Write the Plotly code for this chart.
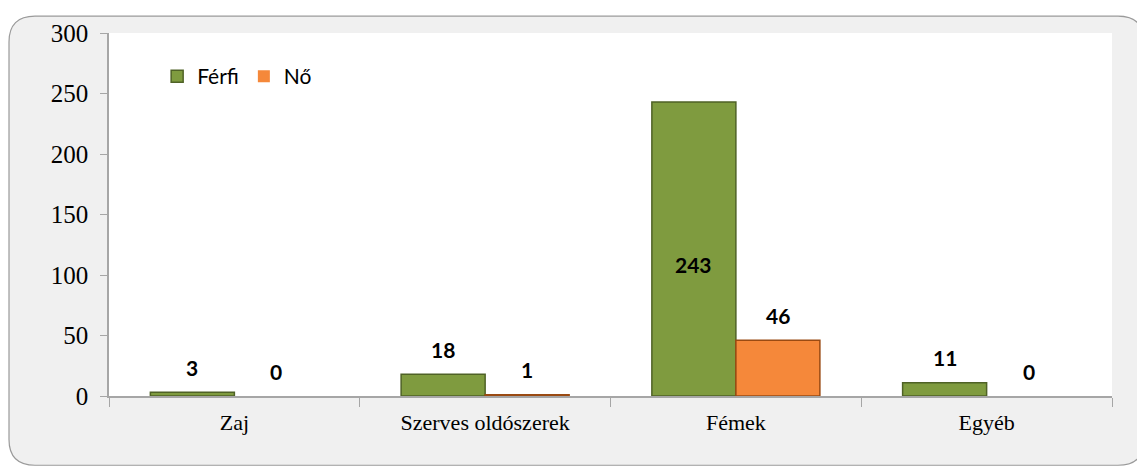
import plotly.graph_objects as go

categories = ["Zaj", "Szerves oldószerek", "Fémek", "Egyéb"]
ferfi = [3, 18, 243, 11]
no = [0, 1, 46, 0]
y_ticks = [0, 50, 100, 150, 200, 250, 300]

GREEN = "#7f9b3f"
GREEN_EDGE = "#4f6226"
ORANGE = "#f5883a"
ORANGE_EDGE = "#9a4a12"


def edge_widths(vals):
    return [1.5 if v > 0 else 0 for v in vals]


fig = go.Figure()
fig.add_trace(go.Bar(name="Férfi", x=categories, y=ferfi,
                     marker=dict(color=GREEN, line=dict(color=GREEN_EDGE, width=edge_widths(ferfi)))))
fig.add_trace(go.Bar(name="Nő", x=categories, y=no,
                     marker=dict(color=ORANGE, line=dict(color=ORANGE_EDGE, width=edge_widths(no)))))

# data labels
label_font = dict(family="Lato, 'Open Sans', Arial", size=21, color="#000000")
annotations = []
for series, shift in ((ferfi, -42), (no, 42)):
    for cat, v in zip(categories, series):
        if v > 100:
            annotations.append(dict(x=cat, y=v / 2, text=f"<b>{v}</b>", showarrow=False,
                                    xshift=shift, yshift=-16, font=label_font,
                                    xref="x", yref="y"))
        else:
            annotations.append(dict(x=cat, y=v, text=f"<b>{v}</b>", showarrow=False,
                                    xshift=shift, yshift=25, yanchor="middle",
                                    font=label_font, xref="x", yref="y"))

# the page body adds an 8px margin, so the figure is 8px smaller than the window
OFF = 8
W, H = 1145 - OFF, 468 - OFF
L, R, T, B = 109 - OFF, 33, 29 - OFF, 72
pw, ph = W - L - R, H - T - B

def px(xp):
    return (xp - OFF - L) / pw

def py(yp):
    return (H - B - (yp - OFF)) / ph

x0, x1, y0, y1 = px(9), px(1144), py(466), py(12)
rx, ry = 26 / pw, 26 / ph
path = (f"M {x0+rx},{y1} L {x1-rx},{y1} Q {x1},{y1} {x1},{y1-ry} "
        f"L {x1},{y0+ry} Q {x1},{y0} {x1-rx},{y0} "
        f"L {x0+rx},{y0} Q {x0},{y0} {x0},{y0+ry} "
        f"L {x0},{y1-ry} Q {x0},{y1} {x0+rx},{y1} Z")

shapes = [
    dict(type="path", path=path, xref="paper", yref="paper", layer="below",
         fillcolor="#f0f0f0", line=dict(color="#9a9a9a", width=1.2)),
    dict(type="rect", x0=0, x1=1, y0=0, y1=1, xref="paper", yref="paper",
         layer="below", fillcolor="#ffffff", line=dict(width=0)),
]

fig.update_layout(
    width=W, height=H,
    margin=dict(l=L, r=R, t=T, b=B),
    paper_bgcolor="#ffffff",
    plot_bgcolor="rgba(0,0,0,0)",
    barmode="group", bargap=0.33, bargroupgap=0,
    showlegend=True,
    legend=dict(orientation="h", x=0.048, y=0.88, xanchor="left", yanchor="middle",
                font=dict(family="Lato, 'Open Sans', Arial", size=21, color="#000000"),
                bgcolor="rgba(0,0,0,0)", traceorder="normal"),
    shapes=shapes,
    annotations=annotations,
    xaxis=dict(showline=True, linecolor="#a6a6a6", linewidth=1.5,
               ticks="outside", tickson="boundaries", ticklen=9, tickcolor="#a6a6a6",
               ticklabelstandoff=6,
               tickfont=dict(family="Liberation Serif, Times New Roman, serif", size=22, color="#000000"),
               showgrid=False, zeroline=False),
    yaxis=dict(range=[0, 300], tickvals=y_ticks, showline=True, linecolor="#a6a6a6",
               linewidth=1.5, ticks="outside", ticklen=7, tickcolor="#a6a6a6",
               ticklabelstandoff=7,
               tickfont=dict(family="Liberation Serif, Times New Roman, serif", size=25, color="#000000"),
               showgrid=False, zeroline=False),
)

fig.write_html("out.html")
